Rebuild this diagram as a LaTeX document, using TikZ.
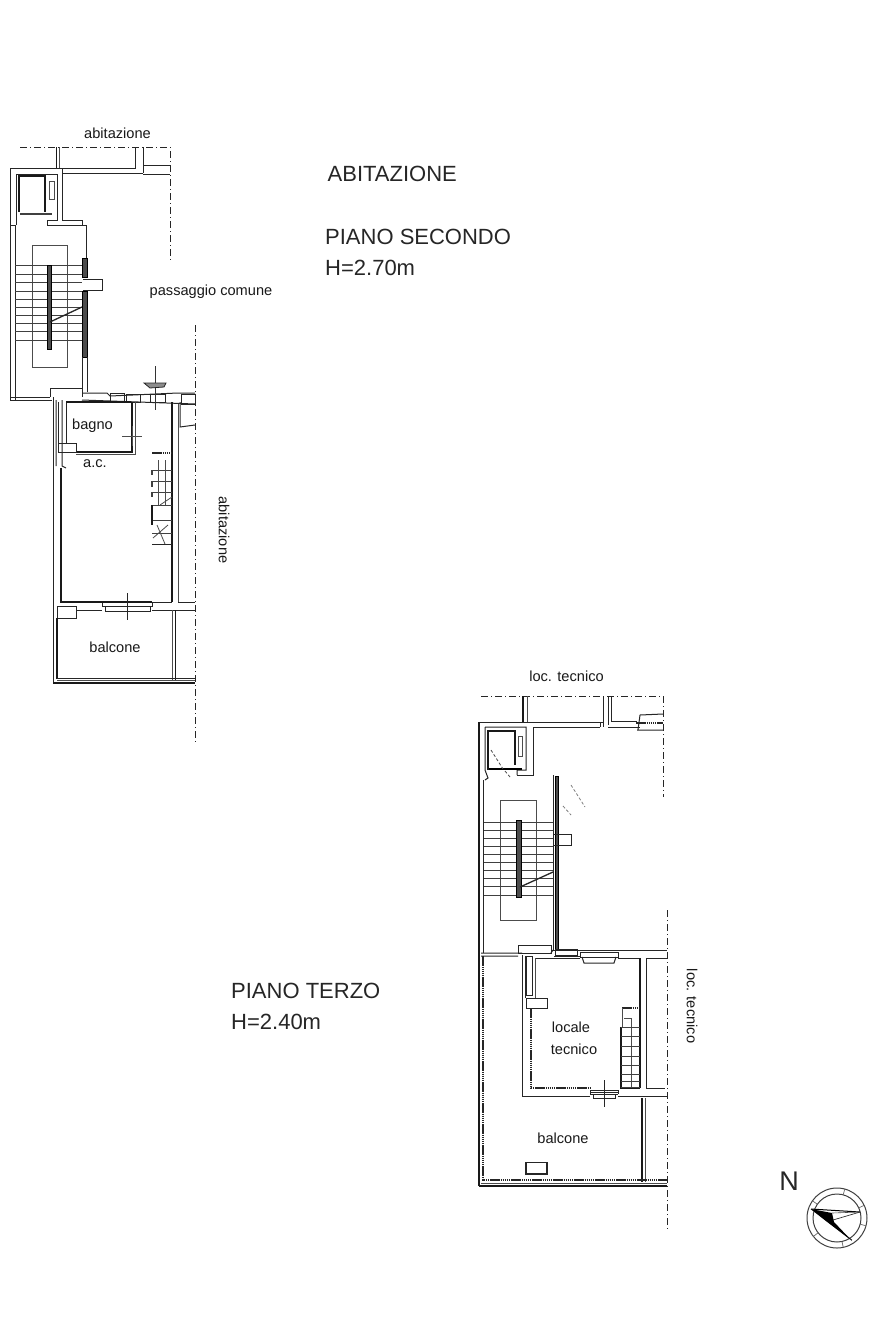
\documentclass[tikz,border=0pt]{standalone}
\usepackage{fontspec}
\setmainfont{Liberation Sans}
\tikzset{
  wall/.style={draw=black!85,line width=1pt},
  thin wall/.style={draw=black!70,line width=0.8pt},
  heavy/.style={draw=black!90,line width=1.8pt},
  dotted wall/.style={draw=black!85,line width=1.3pt,dash pattern=on 1.5pt off 0.6pt},
  tread/.style={draw=black!75,line width=0.8pt},
  darkbar/.style={draw=black,fill=black!70,line width=0.9pt},
  axisline/.style={draw=black!85,line width=1pt,dash pattern=on 7pt off 3pt on 1pt off 3pt},
  lbl/.style={inner sep=0pt,text=black!90,font=\fontsize{14.6}{16}\selectfont},
  biglbl/.style={inner sep=0pt,anchor=west,text=black!85,font=\fontsize{22}{26}\selectfont},
}
\begin{document}
\begin{tikzpicture}[x=1pt,y=-1pt]
\useasboundingbox (0,0) rectangle (880,1320);
\fill[white] (0,0) rectangle (880,1320);

% ---------- Piano secondo: perimeter of the upper block
\draw[axisline] (20,147) -- (170,147) -- (170,262);
\draw[axisline] (195,325) -- (195,742);
\draw[heavy] (56.5,147) -- (56.5,168);
\draw[thin wall] (59.5,147) -- (59.5,168);
\draw[wall] (62,168) -- (133,168) (62,173) -- (143,173);
\draw[wall] (135,147) -- (135,168) -- (133,168) (143,147) -- (143,173);
\draw[wall] (143,165) -- (170,165) (143,174) -- (170,174);
% lift shaft
\draw[wall] (10,400) -- (10,168) -- (62,168) -- (62,220) -- (82,220) -- (82,225) -- (86,225) -- (86,258);
\draw[wall] (15,400) -- (15,225) -- (10,225);
\draw[wall] (16,225) -- (16,174) -- (57,174) -- (57,220) -- (47,220) -- (47,225) -- (82,225);
\draw[heavy] (19,212) -- (19,176) -- (45,176) -- (45,212);
\draw[black!75,line width=2.4pt] (20,214) -- (52,214);
\draw[thin wall] (49,181) rectangle (54,199);
% stair
\draw[thin wall] (32,245) rectangle (67,367);
\foreach \yy in {265,274,282,291,299,307,315,323,331,340}{\draw[tread] (15,\yy) -- (82,\yy);}
\draw[darkbar] (47,265) rectangle (51,349);
\draw[darkbar] (82,258) rectangle (87,277);
\draw[darkbar] (82,291) rectangle (87,357);
\draw[wall] (83,279) -- (102,279) -- (102,290) -- (83,290);
\draw[black!85,line width=1.3pt] (50,322) -- (82,307);
\draw[wall] (82,357) -- (82,388);
\draw[wall] (87,357) -- (87,392);
\draw[wall] (10,400) -- (52,400) (10,397) -- (50,397);
\draw[wall] (50,397) -- (50,388) -- (82,388) -- (82,397);
% ---------- apartment
\draw[wall] (82,393) -- (107,393) -- (110,396) -- (178,393) -- (195,393);
\draw[wall] (82,400) -- (195,404);
\draw[wall] (110,393) rectangle (124,402) (126,394) rectangle (140,402) (150,394) rectangle (165,402) (181,394) rectangle (195,404);
\draw[black!80,line width=0.8pt] (155,366) -- (155,410);
\draw[black!85,fill=black!45,line width=0.8pt] (144,383) -- (166,383) -- (164,387) -- (150,388) -- cycle;
% left wall
\draw[wall] (53,397) -- (53,683);
\draw[wall] (56,400) -- (56,466) (62,400) -- (62,466) -- (66,468);
\draw[heavy] (61,468) -- (61,602) -- (102,602);
\draw[wall] (58,402) -- (58,443);
% bathroom
\draw[wall] (66,402) -- (66,443);
\draw[heavy] (66,402) -- (131,402);
\draw[heavy] (132,402) -- (132,452) -- (76,452);
\draw[thin wall] (135,402) -- (135,454) -- (76,454);
\draw[wall] (58,443) rectangle (76,452);
\draw[thin wall] (122,436) -- (142,436) (132,426) -- (132,446);
% right walls
\draw[heavy] (172,402) -- (172,602);
\draw[thin wall] (178,404) -- (178,602);
\draw[wall] (180,402) -- (180,427) -- (195,425);
\draw[wall] (152,602) -- (172,602) (178,602) -- (195,602);
% window and terrace
\draw[wall] (102,602) -- (102,606) -- (152,606) -- (152,602);
\draw[wall] (105,606) -- (105,611) -- (150,611) -- (150,606);
\draw[heavy] (102,602) -- (152,602);
\draw[black!85,line width=1pt] (127,593) -- (127,620) (104,606) -- (150,606);
\draw[wall] (76,610) -- (102,610) (152,610) -- (195,610);
\draw[wall] (57,606) rectangle (76,618);
\draw[heavy] (57,618) -- (57,679);
\draw[heavy] (175.5,610) -- (175.5,680);
\draw[thin wall] (172.5,610) -- (172.5,680);
\draw[wall] (57,678) -- (195,678);
\draw[heavy] (53,683) -- (195,683);
\draw[thin wall] (57,680.5) -- (195,680.5);
% internal stair
\draw[dotted wall] (152,453) -- (172,453);
\foreach \yy in {470,481,492,505,520,533}{\draw[tread] (152,\yy) -- (172,\yy);}
\draw[black!75,line width=1.4pt] (152,470) -- (152,475) (152,481) -- (152,487) (152,492) -- (152,497);
\draw[heavy] (152,505) -- (152,525);
\draw[thin wall] (165,460) -- (165,505) (158,460) -- (158,505);
\draw[wall] (152,544) -- (172,544);
\draw[thin wall] (153,538) -- (168,525) (157,525) -- (165,544) (160,505) -- (172,497);

% ---------- Piano terzo
\draw[axisline] (481,696) -- (663,696) -- (663,797);
\draw[axisline] (667,910) -- (667,1232);
\draw[heavy] (523,696) -- (523,722);
\draw[thin wall] (527,696) -- (527,722);
\draw[wall] (533,727) -- (600,727) (480,722) -- (603,722);
\draw[wall] (603,696) -- (603,727) (600,722) -- (600,727) (608,696) -- (608,725);
\draw[wall] (611,696) -- (611,721) -- (637,721) (608,727) -- (640,727);
\draw[wall] (638,730) -- (640,715) -- (663,714) (637,730) -- (663,730);
\draw[dotted wall,line width=2pt] (636,723) -- (663,723);
% shaft
\draw[heavy] (479,722) -- (479,1186);
\draw[wall] (483.5,780) -- (483.5,953);
\draw[wall] (485,727) -- (526,727) -- (526,770) -- (517,770) -- (517,775) (485,727) -- (485,770) -- (488,778) -- (485,780);
\draw[wall] (533,727) -- (533,775) -- (517,775);
\draw[heavy] (488,770) -- (488,731) -- (515,731) -- (515,765);
\draw[black,line width=2pt] (489,769) -- (522,769);
\draw[thin wall] (518,736) rectangle (522,756);
\draw[thin wall,densely dashed] (491,750) -- (503,769) (505,771) -- (510,777);
\draw[thin wall,densely dashed,draw=black!50] (571,785) -- (585,807) (563,806) -- (571,815);
\draw[wall] (553,775) -- (553,950);
\draw[darkbar] (555,776) rectangle (558,950);
\draw[thin wall] (500,800) rectangle (536,920);
\foreach \yy in {822,830,838,846,854,862,870,878,886,895}{\draw[tread] (484,\yy) -- (553,\yy);}
\draw[darkbar] (516,820) rectangle (521,897);
\draw[wall] (553,834) -- (571,834) -- (571,845) -- (553,845);
\draw[black!85,line width=1.3pt] (520,887) -- (553,872);
\draw[wall] (518,945) rectangle (551,953);
\draw[wall] (481,953) -- (522,953) (481,956) -- (518,956) (551,953) -- (553,950);
% room
\draw[wall] (553,950) -- (667,950);
\draw[wall] (554,956) -- (580,956);
\draw[wall] (555,949) rectangle (577,955);
\draw[wall] (580,952) rectangle (618,957);
\draw[wall] (582,957) -- (584,963) -- (614,963) -- (616,957);
\draw[wall] (618,958) -- (640,958) (646,958) -- (667,958) (535,958) -- (580,958);
\draw[heavy] (640,958) -- (640,1088);
\draw[wall] (646,958) -- (646,1088);
\draw[wall] (646,1088) -- (665,1088) ;
\draw[wall] (522,955) -- (522,1096) -- (590,1096);
\draw[wall] (525,956) -- (525,998);
\draw[wall] (526,956) rectangle (532,995);
\draw[thin wall] (535,958) -- (535,998);
\draw[wall] (526,998) rectangle (547,1008);
\draw[dotted wall] (531,1008) -- (531,1088) -- (590,1088);
\draw[heavy] (620,1088) -- (640,1088);
\draw[wall] (590,1090) -- (618,1090) (590,1094) -- (618,1094) (590,1090) -- (590,1094) (618,1090) -- (618,1094);
\draw[wall] (593,1094) -- (593,1098) -- (615,1098) -- (615,1094);
\draw[black!85,line width=1pt] (604,1080) -- (604,1107) (590,1092) -- (618,1092);
\draw[wall] (618,1096) -- (667,1096);
% stair in room
\draw[dotted wall] (622,1008) -- (640,1008);
\draw[thin wall] (622,1008) -- (622,1027);
\draw[thin wall] (631,1018) -- (631,1088) (624,1018) -- (631,1018);
\draw[heavy] (621,1027) -- (621,1088);
\foreach \yy in {1027,1036,1046,1056,1065,1074,1081,1087}{\draw[tread] (621,\yy) -- (640,\yy);}
% balcony
\draw[heavy] (642,1098) -- (642,1182);
\draw[thin wall] (645.5,1098) -- (645.5,1182);
\draw[dotted wall] (483,956) -- (483,1180) -- (667,1180);
\draw[heavy] (479,1186) -- (667,1186);
\draw[thin wall] (481,1183) -- (667,1183);
\draw[wall,line width=1.1pt] (526,1162.5) rectangle (547,1174);

% ---------- North sign
\draw[black!75,line width=1pt] (837,1218) circle[radius=30];
\draw[black!75,line width=1pt] (837,1218) circle[radius=24];
\foreach \aa in {15,78,142,215,285,335}{\draw[black!60,line width=0.7pt] (\aa:24) ++(837,1218) -- ++(\aa:6);}
\draw[black,line width=1pt] (811,1209) -- (860,1212);
\draw[black!80,line width=0.7pt] (860,1212) -- (833,1220);
\draw[black!80,line width=0.7pt] (811,1209) -- (852,1240);
\fill[black] (811,1209) -- (832,1213) -- (834,1222) -- (852,1241) -- (826,1221) -- cycle;
\draw[black!70,line width=0.6pt] (832,1213) -- (860,1212);

% ---------- labels
\node[lbl] (lab1) at (117.5,133) {abitazione};
\node[lbl] (lab2) at (211,292) {passaggio comune};
\node[lbl] (lab3) at (92.5,426) {bagno};
\node[lbl] (lab4) at (95,463.5) {a.c.};
\node[lbl,rotate=-90] (lab5) at (224,530) {abitazione};
\node[lbl] (lab6) at (115,647) {balcone};
\node[lbl] (lab7) at (566.5,676) {loc. tecnico};
\node[lbl,rotate=-90] (lab8) at (692,1006) {loc. tecnico};
\node[lbl] (lab9) at (571,1027) {locale};
\node[lbl] (lab10) at (574,1049) {tecnico};
\node[lbl] (lab11) at (563,1138.5) {balcone};
\node[biglbl] (t1) at (327.5,174) {ABITAZIONE};
\node[biglbl] (t2) at (325,237) {PIANO SECONDO};
\node[biglbl] (t3) at (325,268) {H=2.70m};
\node[biglbl] (t4) at (231,991) {PIANO TERZO};
\node[biglbl] (t5) at (231,1022) {H=2.40m};
\node[inner sep=0pt,text=black!85,font=\fontsize{27}{30}\selectfont] (t6) at (789,1181) {N};
\end{tikzpicture}
\end{document}
